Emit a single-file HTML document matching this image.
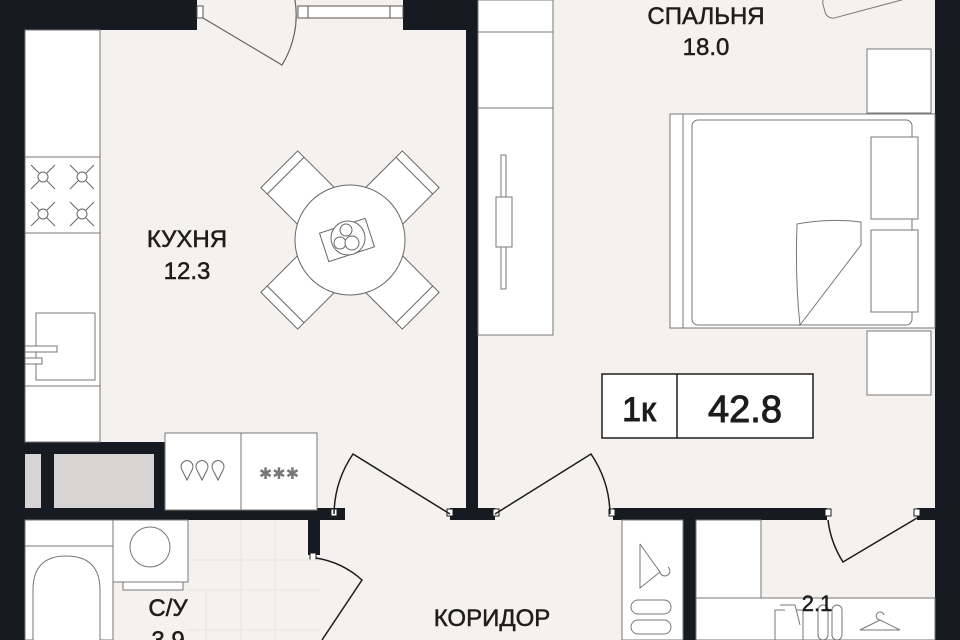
<!DOCTYPE html>
<html><head><meta charset="utf-8"><style>
html,body{margin:0;padding:0;background:#161b22;}
svg{display:block}
text{font-family:"Liberation Sans",sans-serif;fill:#1d1d1d;stroke:#1d1d1d;stroke-width:0.5}
</style></head><body>
<svg width="960" height="640" viewBox="0 0 960 640" xmlns="http://www.w3.org/2000/svg">
<rect width="960" height="640" fill="#161b22"/>
<!-- floors -->
<rect x="25" y="30" width="441" height="480" fill="#f4f1ee"/>
<rect x="197" y="0" width="206" height="30" fill="#f4f1ee"/>
<rect x="478" y="0" width="457" height="510" fill="#f4f1ee"/>
<rect x="320" y="520" width="368" height="120" fill="#f4f1ee"/>
<rect x="330" y="505" width="160" height="16" fill="#f4f1ee"/>
<rect x="495" y="505" width="118" height="16" fill="#f4f1ee"/>
<rect x="696" y="520" width="239" height="120" fill="#f4f1ee"/>
<rect x="827" y="505" width="90" height="16" fill="#f4f1ee"/>
<rect x="25" y="520" width="283" height="120" fill="#f4f1ee"/>
<rect x="308" y="555" width="12" height="85" fill="#f4f1ee"/>
<!-- walls -->
<rect x="466" y="30" width="12" height="490" fill="#161b22"/>
<rect x="25" y="442" width="140" height="68" fill="#161b22"/>
<rect x="25" y="508" width="320" height="12" fill="#161b22"/>
<rect x="450" y="508" width="45" height="12" fill="#161b22"/>
<rect x="613" y="508" width="214" height="12" fill="#161b22"/>
<rect x="917" y="508" width="18" height="12" fill="#161b22"/>
<rect x="308" y="508" width="12" height="47" fill="#161b22"/>
<rect x="683" y="520" width="13" height="120" fill="#161b22"/>
<rect x="25" y="454" width="16" height="54" fill="#d6d5d4"/>
<rect x="54" y="454" width="100" height="54" fill="#d6d5d4"/>
<g fill="#fff" stroke="#1d1d1d" stroke-width="1">
<rect x="331" y="509" width="6" height="7"/><rect x="447" y="509" width="6" height="7"/>
<rect x="493" y="509" width="6" height="7"/><rect x="609" y="509" width="6" height="7"/>
<rect x="825" y="509" width="6" height="7"/><rect x="914" y="509" width="6" height="7"/>
<rect x="310" y="553" width="6" height="7"/>
</g>
<!-- window top -->
<g fill="#fff" stroke="#555" stroke-width="1">
<rect x="298" y="6" width="105" height="12"/>
<line x1="308" y1="6" x2="308" y2="18"/><line x1="390" y1="6" x2="390" y2="18"/>
<rect x="197" y="6" width="6" height="12"/>
</g>
<path d="M203 18 L282 65 A95 95 0 0 0 295 0" fill="none" stroke="#666" stroke-width="1.2"/>
<!-- kitchen cabinets -->
<g fill="#fff" stroke="#777" stroke-width="1">
<rect x="25" y="30" width="75" height="412"/>
<line x1="25" y1="157" x2="100" y2="157"/><line x1="25" y1="233" x2="100" y2="233"/>
<line x1="25" y1="386" x2="100" y2="386"/>
<rect x="36" y="313" width="59" height="67"/>
<rect x="25" y="346" width="32" height="6"/><rect x="25" y="358" width="17" height="6"/>
<rect x="165" y="433" width="76" height="77"/><rect x="241" y="433" width="76" height="77"/>
</g>
<g fill="none" stroke="#666" stroke-width="1">
<g transform="translate(43,177)"><circle r="5"/><path d="M-12 -12L-4 -4M12 -12L4 -4M-12 12L-4 4M12 12L4 4"/></g>
<g transform="translate(82,177)"><circle r="5"/><path d="M-12 -12L-4 -4M12 -12L4 -4M-12 12L-4 4M12 12L4 4"/></g>
<g transform="translate(43,214)"><circle r="5"/><path d="M-12 -12L-4 -4M12 -12L4 -4M-12 12L-4 4M12 12L4 4"/></g>
<g transform="translate(82,214)"><circle r="5"/><path d="M-12 -12L-4 -4M12 -12L4 -4M-12 12L-4 4M12 12L4 4"/></g>
<path d="M182 470 a6 6 0 1 1 10 0 L187 480Z M197 470 a6 6 0 1 1 10 0 L202 480Z M213 470 a6 6 0 1 1 10 0 L218 480Z"/>
</g>
<text x="279" y="479" font-size="16" text-anchor="middle" style="fill:#777;stroke:none">✱✱✱</text>
<!-- table -->
<g fill="#fff" stroke="#666" stroke-width="1">
<g transform="translate(350,240) rotate(45)">
<rect x="-26" y="-100" width="52" height="55"/><line x1="-26" y1="-91" x2="26" y2="-91"/>
<rect x="-26" y="45" width="52" height="55"/><line x1="-26" y1="91" x2="26" y2="91"/>
<rect x="-100" y="-26" width="55" height="52"/><line x1="-91" y1="-26" x2="-91" y2="26"/>
<rect x="45" y="-26" width="55" height="52"/><line x1="91" y1="-26" x2="91" y2="26"/>
</g>
<circle cx="350" cy="240" r="55"/>
<rect x="323" y="225" width="48" height="30" transform="rotate(-18 347 240)"/>
<circle cx="348" cy="238" r="17"/>
<circle cx="346" cy="230" r="6"/><circle cx="340" cy="243" r="6"/><circle cx="352" cy="243" r="7"/>
</g>
<text x="187" y="247" font-size="24" text-anchor="middle">КУХНЯ</text>
<text x="187" y="279" font-size="24" text-anchor="middle">12.3</text>
<!-- doors -->
<path d="M334 514 A110 110 0 0 1 353 454 L450 514" fill="none" stroke="#1d1d1d" stroke-width="1.5"/>
<path d="M495 514 L591 454 A110 110 0 0 1 610 514" fill="none" stroke="#1d1d1d" stroke-width="1.5"/>
<path d="M828 520 A100 100 0 0 0 843 562 L917 518" fill="none" stroke="#1d1d1d" stroke-width="1.5"/>
<path d="M316 558 A90 90 0 0 1 362 580 L322 640" fill="none" stroke="#1d1d1d" stroke-width="1.5"/>
<!-- bedroom wardrobe -->
<g fill="#fff" stroke="#777" stroke-width="1">
<rect x="478" y="0" width="75" height="335"/>
<line x1="478" y1="32" x2="553" y2="32"/><line x1="478" y1="108" x2="553" y2="108"/>
<rect x="501" y="155" width="5" height="134"/><rect x="496" y="197" width="16" height="50"/>
<!-- bed -->
<rect x="867" y="49" width="64" height="64"/><rect x="867" y="331" width="64" height="64"/>
<rect x="670" y="114" width="265" height="214"/><rect x="683" y="114" width="252" height="214"/>
<rect x="692" y="120" width="220" height="205" rx="6"/>
<rect x="871" y="137" width="47" height="82"/><rect x="871" y="230" width="47" height="82"/>
<path d="M797 224 Q830 218 861 222 L861 245 L800 325 Q795 280 797 224Z"/>
</g>
<g fill="none" stroke="#777"><rect x="826" y="-5" width="110" height="24" rx="8" transform="rotate(-15 830 15)"/></g>
<text x="706" y="24" font-size="24" text-anchor="middle">СПАЛЬНЯ</text>
<text x="706" y="55" font-size="24" text-anchor="middle">18.0</text>
<!-- badge -->
<rect x="602" y="374" width="211" height="64" fill="#fff" stroke="#1d1d1d" stroke-width="1.5"/>
<line x1="677" y1="374" x2="677" y2="438" stroke="#1d1d1d" stroke-width="1.5"/>
<text x="639" y="421" font-size="34" text-anchor="middle" style="stroke-width:1">1к</text>
<text x="745" y="422" font-size="38" text-anchor="middle" style="stroke-width:1">42.8</text>
<!-- bathroom -->
<g stroke="#e8e3de" stroke-width="1">
<path d="M206 590V640M241 520V640M275 520V640M188 590H320M188 630H320M188 560H320"/>
</g>
<g fill="#fff" stroke="#777" stroke-width="1">
<rect x="25" y="520" width="88" height="120"/><line x1="25" y1="546" x2="113" y2="546"/>
<path d="M33 640 V590 Q33 556 66 556 Q100 556 100 590 V640"/>
<rect x="113" y="520" width="75" height="62"/><rect x="123" y="582" width="60" height="8"/>
<circle cx="150" cy="547" r="20"/>
<rect x="622" y="520" width="61" height="120"/>
<path d="M640 544 L660 572 M640 544 L640 588 L660 572 a5 5 0 1 0 8 -5"/>
<rect x="631" y="600" width="40" height="14" rx="7"/><rect x="631" y="620" width="40" height="14" rx="7"/>
<rect x="696" y="520" width="65" height="78"/>
<rect x="696" y="598" width="239" height="42"/>
<rect x="775" y="610" width="28" height="30"/><path d="M780 605 L795 605 L800 625"/>
<rect x="818" y="605" width="10" height="35" rx="5"/><rect x="832" y="605" width="10" height="35" rx="5"/>
<path d="M880 620 L900 630 M880 620 L860 630 L900 630 M880 620 a4 4 0 1 1 4 -5"/>
</g>
<text x="817" y="611" font-size="22" text-anchor="middle">2.1</text>
<text x="168" y="616" font-size="24" text-anchor="middle">С/У</text>
<text x="168" y="648" font-size="24" text-anchor="middle">3.9</text>
<text x="492" y="626" font-size="24" text-anchor="middle">КОРИДОР</text>
<text x="492" y="658" font-size="24" text-anchor="middle">4.8</text>
</svg>
</body></html>
